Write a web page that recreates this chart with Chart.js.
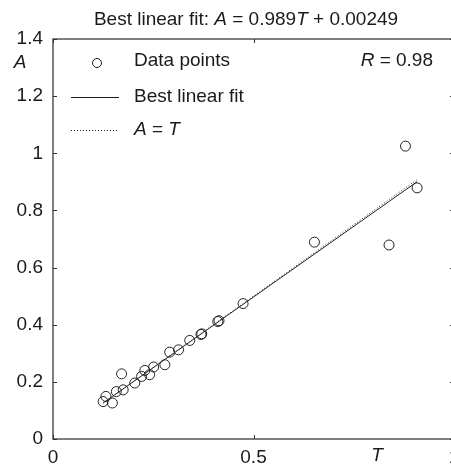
<!DOCTYPE html>
<html>
<head>
<meta charset="utf-8">
<script src="https://cdn.jsdelivr.net/npm/chart.js@4.4.1/dist/chart.umd.min.js"></script>
<style>
  html, body { margin: 0; padding: 0; background: #fff; overflow: hidden; }
  #wrap { width: 460px; height: 466px; }
</style>
</head>
<body>
<div id="wrap"><canvas id="c" width="460" height="466"></canvas></div>
<script>
// measured targets (T) and outputs (A)
var targetT = [0.125, 0.132, 0.148, 0.158, 0.175, 0.171, 0.204, 0.221, 0.229, 0.241,
               0.251, 0.279, 0.291, 0.313, 0.341, 0.369, 0.371, 0.411, 0.414, 0.474,
               0.652, 0.838, 0.879, 0.908];
var outputA = [0.131, 0.149, 0.126, 0.166, 0.172, 0.228, 0.196, 0.219, 0.240, 0.225,
               0.252, 0.260, 0.304, 0.312, 0.345, 0.366, 0.368, 0.411, 0.414, 0.474,
               0.689, 0.679, 1.025, 0.879];
var fitSlope = 0.989;
var fitOffset = 0.00249;
var fitRange = [0.125, 0.908];
var xTicks = [0, 0.5, 1];
var yTicks = [0, 0.2, 0.4, 0.6, 0.8, 1, 1.2, 1.4];

var FONT = '"Liberation Sans", Arial, sans-serif';
var FS = 19;
var INK = '#1a1a1a';

var points = targetT.map(function(t, i) { return { x: t, y: outputA[i] }; });
var fitLine = fitRange.map(function(t) { return { x: t, y: fitSlope * t + fitOffset }; });
var idLine = fitRange.map(function(t) { return { x: t, y: t }; });

function drawRich(ctx, parts, x, y, align, size) {
    var total = 0;
    parts.forEach(function(p) {
        ctx.font = (p[1] ? 'italic ' : '') + size + 'px ' + FONT;
        total += ctx.measureText(p[0]).width;
    });
    var cx = align === 'center' ? x - total / 2 : (align === 'right' ? x - total : x);
    ctx.textAlign = 'left';
    ctx.textBaseline = 'middle';
    parts.forEach(function(p) {
        ctx.font = (p[1] ? 'italic ' : '') + size + 'px ' + FONT;
        ctx.fillText(p[0], cx, y);
        cx += ctx.measureText(p[0]).width;
    });
}

var decor = {
    id: 'decor',
    afterDraw: function(chart) {
        var ctx = chart.ctx, a = chart.chartArea;
        var xs = chart.scales.x, ys = chart.scales.y;
        ctx.save();
        // box
        ctx.strokeStyle = '#555';
        ctx.lineWidth = 1.5;
        ctx.strokeRect(a.left, a.top, a.right - a.left, a.bottom - a.top);
        // inward ticks
        ctx.lineWidth = 1;
        ctx.strokeStyle = '#333';
        ctx.beginPath();
        yTicks.forEach(function(v) {
            var py = Math.round(ys.getPixelForValue(v)) + 0.5;
            ctx.moveTo(a.left, py); ctx.lineTo(a.left + 4, py);
            ctx.moveTo(a.right, py); ctx.lineTo(a.right - 4, py);
        });
        xTicks.forEach(function(v) {
            var px = Math.round(xs.getPixelForValue(v)) + 0.5;
            ctx.moveTo(px, a.bottom); ctx.lineTo(px, a.bottom - 4);
            ctx.moveTo(px, a.top); ctx.lineTo(px, a.top + 4);
        });
        ctx.stroke();

        ctx.fillStyle = INK;
        // title
        drawRich(ctx, [['Best linear fit: ', false], ['A', true], [' = 0.989', false],
                       ['T', true], [' + 0.00249', false]], 246, 20, 'center', FS);
        // axis names
        drawRich(ctx, [['A', true]], 20, 63, 'center', FS);
        drawRich(ctx, [['T', true]], 377, 456, 'center', FS);
        // R value
        drawRich(ctx, [['R', true], [' = 0.98', false]], 433, 61, 'right', FS);

        // legend
        ctx.strokeStyle = INK;
        ctx.lineWidth = 1;
        ctx.beginPath();
        ctx.arc(97, 63, 4.5, 0, Math.PI * 2);
        ctx.stroke();
        ctx.beginPath();
        ctx.moveTo(71, 97.5); ctx.lineTo(119, 97.5);
        ctx.stroke();
        ctx.setLineDash([1, 2]);
        ctx.beginPath();
        ctx.moveTo(71, 130.5); ctx.lineTo(119, 130.5);
        ctx.stroke();
        ctx.setLineDash([]);
        ctx.fillStyle = INK;
        drawRich(ctx, [['Data points', false]], 134, 61, 'left', FS);
        drawRich(ctx, [['Best linear fit', false]], 134, 97, 'left', FS);
        drawRich(ctx, [['A', true], [' = ', false], ['T', true]], 134, 130, 'left', FS);
        ctx.restore();
    }
};

new Chart(document.getElementById('c'), {
    type: 'scatter',
    data: {
        datasets: [
            {
                label: 'A = T',
                type: 'line',
                data: idLine,
                borderColor: '#333',
                borderWidth: 1,
                borderDash: [1, 2],
                pointRadius: 0,
                fill: false
            },
            {
                label: 'Best linear fit',
                type: 'line',
                data: fitLine,
                borderColor: '#222',
                borderWidth: 1,
                pointRadius: 0,
                fill: false
            },
            {
                label: 'Data points',
                data: points,
                pointStyle: 'circle',
                pointRadius: 5,
                borderColor: '#222',
                borderWidth: 1,
                backgroundColor: 'rgba(0,0,0,0)'
            }
        ]
    },
    options: {
        responsive: false,
        animation: false,
        layout: { padding: { top: 39, right: 1, left: 0, bottom: 0 } },
        plugins: { legend: { display: false }, tooltip: { enabled: false } },
        scales: {
            x: {
                type: 'linear', min: 0, max: 1,
                afterBuildTicks: function(s) { s.ticks = xTicks.map(function(v) { return { value: v }; }); },
                afterFit: function(s) { s.height = 27; s.paddingLeft = 0; s.paddingRight = 0; },
                grid: { display: false, drawTicks: false },
                border: { display: false },
                ticks: {
                    color: INK, font: { family: FONT, size: FS }, padding: 7, maxRotation: 0,
                    callback: function(v) { return String(v); }
                }
            },
            y: {
                type: 'linear', min: 0, max: 1.4,
                afterBuildTicks: function(s) { s.ticks = yTicks.map(function(v) { return { value: v }; }); },
                afterFit: function(s) { s.width = 53; s.paddingTop = 0; s.paddingBottom = 0; },
                grid: { display: false, drawTicks: false },
                border: { display: false },
                ticks: {
                    color: INK, font: { family: FONT, size: FS }, padding: 10,
                    callback: function(v) { return String(v); }
                }
            }
        }
    },
    plugins: [decor]
});
</script>
</body>
</html>
